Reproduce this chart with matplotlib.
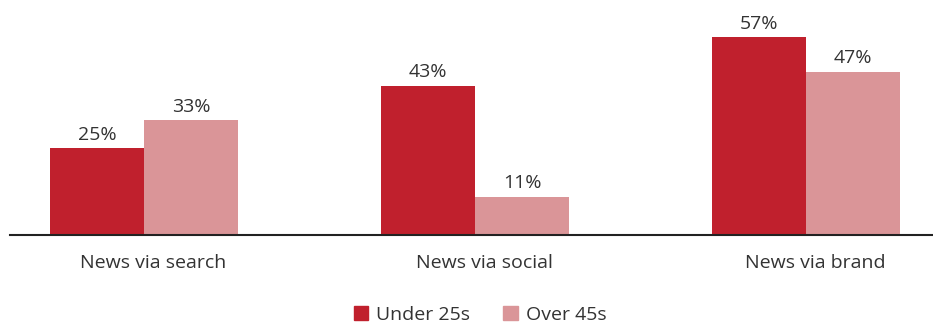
import numpy as np
import matplotlib
matplotlib.use("Agg")
import matplotlib.pyplot as plt
from matplotlib.patches import Patch
from matplotlib.transforms import ScaledTranslation

# ── Data ──────────────────────────────────────────────────────────────────────
categories = ["News via search", "News via social", "News via brand"]
under_25 = [25, 43, 57]
over_45 = [33, 11, 47]
series_names = ["Under 25s", "Over 45s"]

RED = "#C0202D"
PINK = "#DA9598"
TEXT = "#333333"
FS = 14

plt.rcParams["font.family"] = ["Open Sans", "DejaVu Sans"]

fig = plt.figure(figsize=(9.33, 3.25), dpi=100)
ax = fig.add_axes([10 / 933, 90 / 325, 922 / 933, 235 / 325])

x = np.arange(len(categories))
w = 0.285
b1 = ax.bar(x - w / 2, under_25, w, color=RED, zorder=2)
b2 = ax.bar(x + w / 2, over_45, w, color=PINK, zorder=2)

for bars, vals in ((b1, under_25), (b2, over_45)):
    for rect, v in zip(bars, vals):
        ax.text(rect.get_x() + rect.get_width() / 2, v + 1.3, f"{v}%",
                ha="center", va="bottom", fontsize=FS, color=TEXT)

ax.set_xlim(-0.405, 2.381)
ax.set_ylim(0, 67.7)
ax.set_yticks([])
ax.set_xticks(x)
ax.set_xticklabels(categories, fontsize=FS, color=TEXT)
ax.tick_params(axis="x", length=0, pad=14)
# category labels sit slightly right of the group centre in the original
shift = ScaledTranslation(9 / 100, 0, fig.dpi_scale_trans)
for lbl in ax.get_xticklabels():
    lbl.set_transform(lbl.get_transform() + shift)
for s in ("top", "right", "left"):
    ax.spines[s].set_visible(False)
ax.spines["bottom"].set_color("#222222")
ax.spines["bottom"].set_linewidth(1.5)

handles = [Patch(color=RED), Patch(color=PINK)]
fig.legend(handles, series_names, loc="center", bbox_to_anchor=(480 / 933, 1 - 315 / 325),
           ncol=2, frameon=False, fontsize=FS, handlelength=0.75, handleheight=0.75,
           handletextpad=0.4, columnspacing=1.7, labelcolor=TEXT)

fig.savefig("out.png", dpi=100)
